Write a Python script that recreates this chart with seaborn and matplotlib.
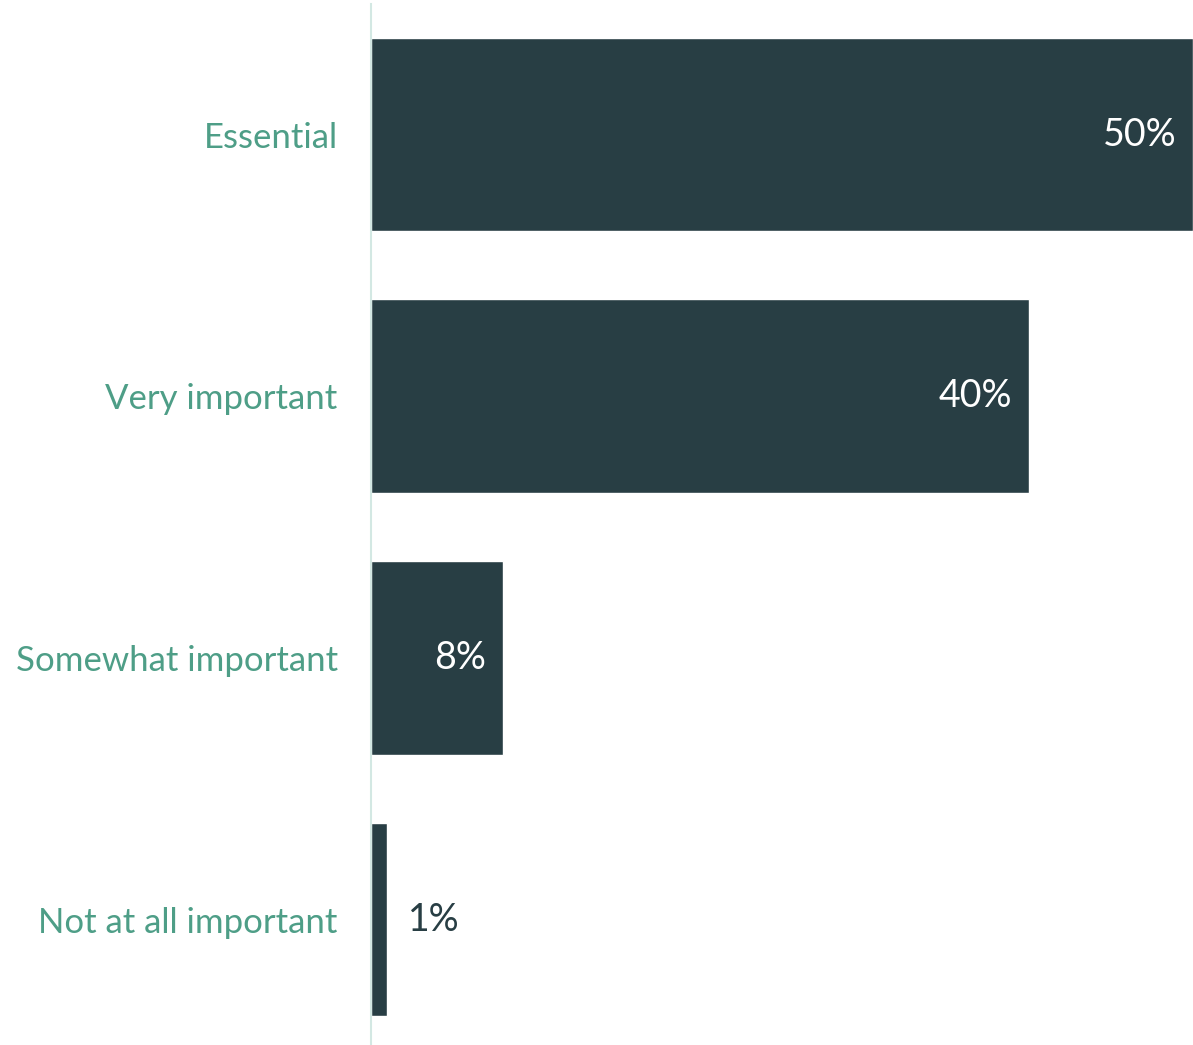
import matplotlib
matplotlib.use("Agg")
import matplotlib.pyplot as plt
import seaborn as sns
import pandas as pd

categories = ["Essential", "Very important", "Somewhat important", "Not at all important"]
values = [50, 40, 8, 1]

bar_color = "#283E44"
label_color = "#4E9E87"

df = pd.DataFrame({"category": categories, "value": values})

sns.set_style("white")
plt.rcParams["font.family"] = ["Lato", "DejaVu Sans"]

fig = plt.figure(figsize=(11.93, 10.45), dpi=100)
ax = fig.add_axes([371 / 1193, 0, 1 - 371 / 1193, 0.9965])

sns.barplot(data=df, x="value", y="category", color=bar_color, width=0.74,
            saturation=1, ax=ax)

ax.set_xlim(0, 50)
ax.set_ylim(3.479, -0.5)
ax.set_xlabel("")
ax.set_ylabel("")
ax.set_xticks([])
ax.tick_params(axis="y", length=0, pad=24, labelsize=25, labelcolor=label_color)

for side in ["top", "right", "bottom"]:
    ax.spines[side].set_visible(False)
ax.spines["left"].set_color("#D3E8E3")
ax.spines["left"].set_linewidth(1.5)

for i, v in enumerate(values):
    if v >= 5:
        ax.annotate(f"{v}%", (v, i), xytext=(-12, 0), textcoords="offset points",
                    ha="right", va="center", color="white", fontsize=27)
    else:
        ax.annotate(f"{v}%", (v, i), xytext=(15, 0), textcoords="offset points",
                    ha="left", va="center", color=bar_color, fontsize=27)

fig.savefig("out.png", dpi=100)
